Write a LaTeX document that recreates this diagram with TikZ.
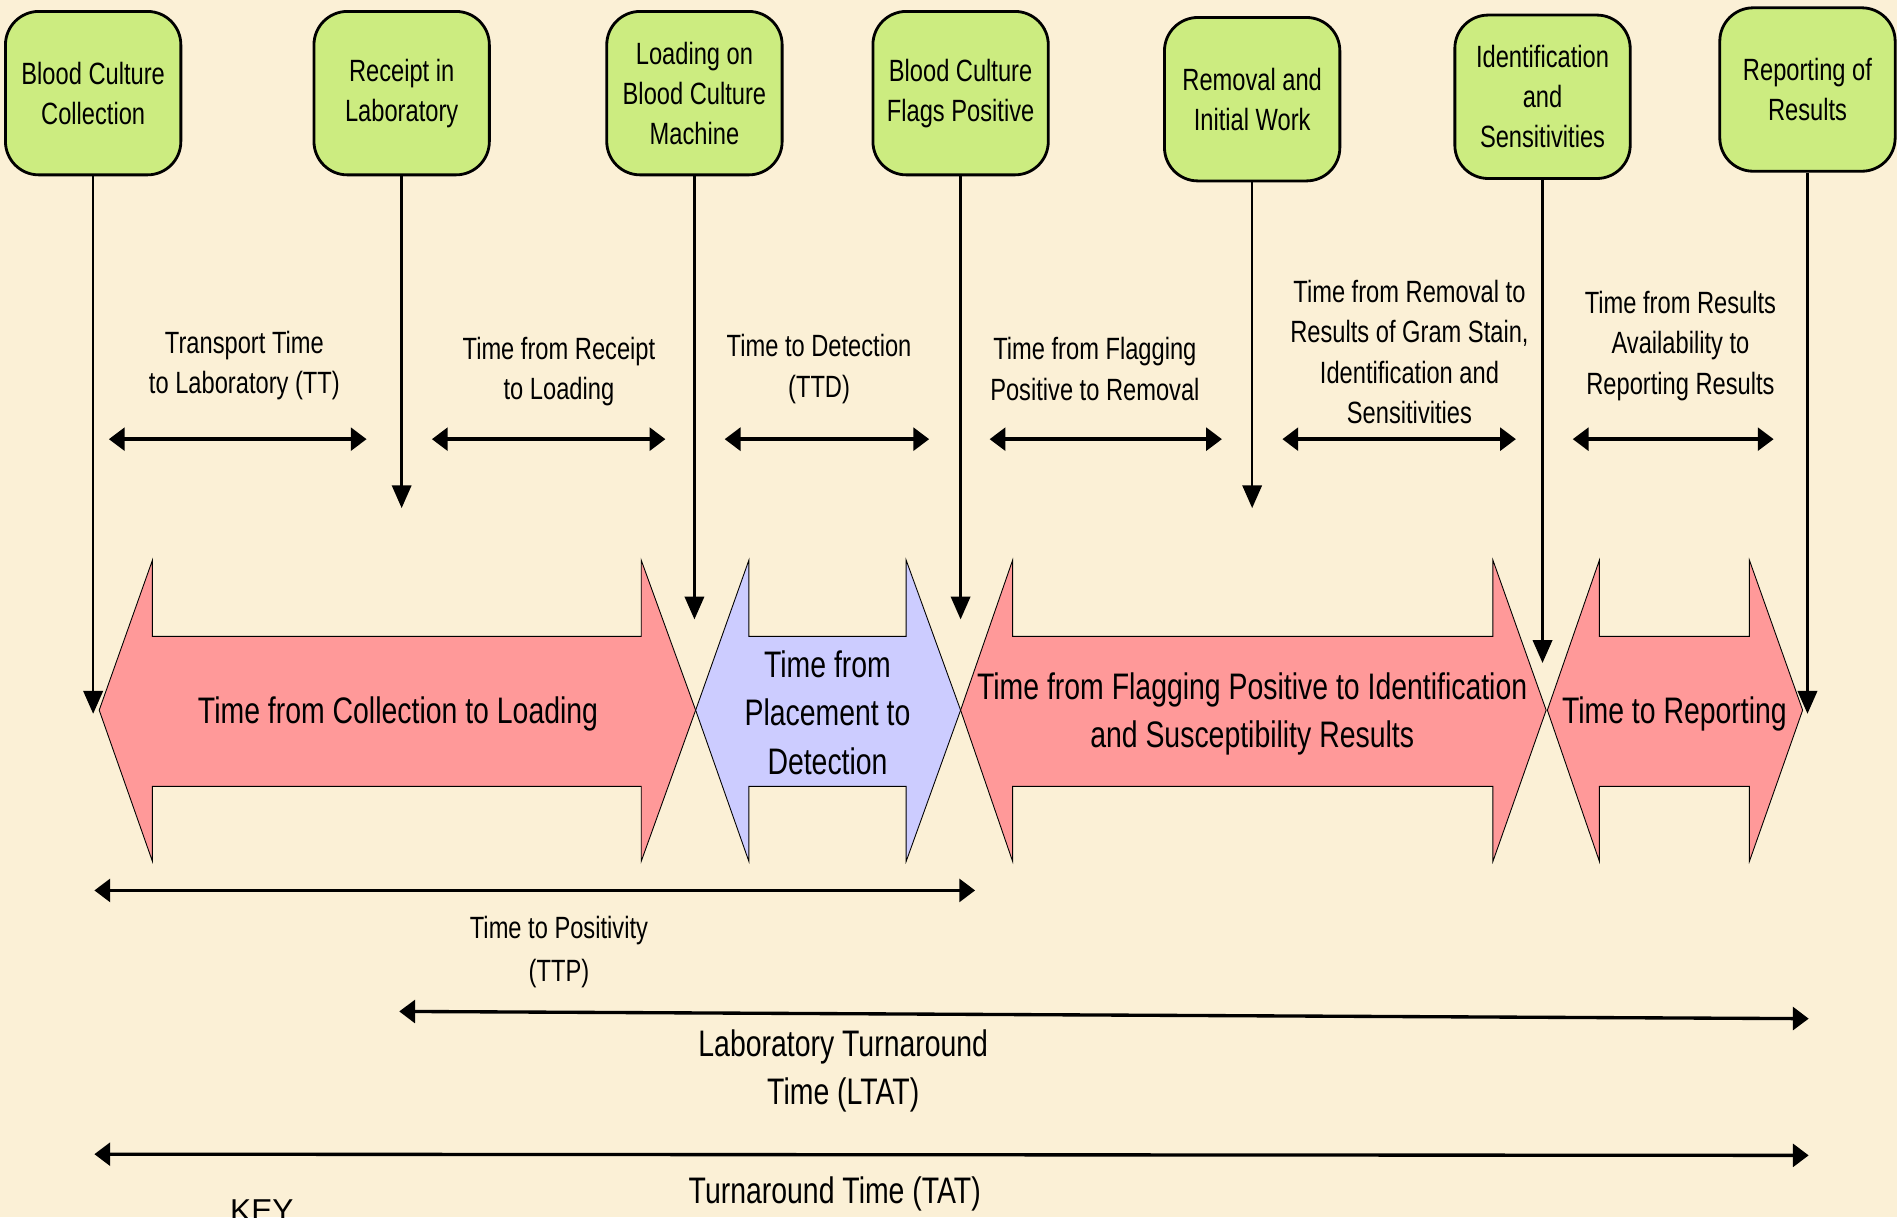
\documentclass[tikz,border=0pt]{standalone}
\usepackage{fontspec}
\setmainfont{Liberation Sans}[FakeStretch=0.77]
\newfontfamily\keyfont{Liberation Sans}
\usepackage{xcolor}
\usepackage{tikz}
\usetikzlibrary{positioning,arrows.meta}

\definecolor{bgcream}{RGB}{251,240,214}
\definecolor{boxgreen}{RGB}{204,236,128}
\definecolor{phasepink}{RGB}{255,153,153}
\definecolor{phaseblue}{RGB}{204,204,255}

\tikzstyle{stagebox} = [rectangle, rounded corners=19pt, draw, line width=1.6pt, fill=boxgreen, minimum width=99.8pt, minimum height=93pt, align=center, font=\fontsize{17.5}{22.7}\selectfont]
\tikzstyle{dropline} = [line width=1.5pt, -{Triangle[length=13pt,width=11pt]}]
\tikzstyle{spanarrow} = [line width=1.9pt, {Triangle[length=9pt,width=13pt]}-{Triangle[length=9pt,width=13pt]}]
\tikzstyle{spanlabel} = [align=center, font=\fontsize{17.5}{23}\selectfont]
\tikzstyle{phasearrow} = [draw=black, line width=0.5pt]
\tikzstyle{phaselabel} = [align=center, font=\fontsize{21}{27.5}\selectfont]

\begin{document}
\begin{tikzpicture}[x=0.24196mm, y=-0.24196mm]
    \useasboundingbox (0,0) rectangle (1568,1006);
    \fill[bgcream] (0,0) rectangle (1568,1006);

    % Milestones
    \node[stagebox] (collect) at (77,77) {Blood Culture\\Collection};
    \node[stagebox] (receipt) at (332,77) {Receipt in\\Laboratory};
    \node[stagebox] (loading) at (574,77) {Loading on\\Blood Culture\\Machine};
    \node[stagebox] (flags) at (794,77) {Blood Culture\\Flags Positive};
    \node[stagebox] (removal) at (1035,82) {Removal and\\Initial Work};
    \node[stagebox] (ident) at (1275,80) {Identification\\and\\Sensitivities};
    \node[stagebox] (report) at (1494,74) {Reporting of\\Results};

    % Phase arrows
    \draw[phasearrow, fill=phasepink] (82,587) -- (126,463) -- (126,526) -- (530,526) -- (530,463) -- (575,587)
        -- (530,712) -- (530,650) -- (126,650) -- (126,712) -- cycle;
    \draw[phasearrow, fill=phaseblue] (575,587) -- (619,463) -- (619,526) -- (749,526) -- (749,463) -- (794,587)
        -- (749,712) -- (749,650) -- (619,650) -- (619,712) -- cycle;
    \draw[phasearrow, fill=phasepink] (794,587) -- (837,463) -- (837,526) -- (1234,526) -- (1234,463) -- (1278,587)
        -- (1234,712) -- (1234,650) -- (837,650) -- (837,712) -- cycle;
    \draw[phasearrow, fill=phasepink] (1279,587) -- (1322,463) -- (1322,526) -- (1446,526) -- (1446,463) -- (1490,587)
        -- (1446,712) -- (1446,650) -- (1322,650) -- (1322,712) -- cycle;

    \node[phaselabel] (loadlbl) at (329,590) {Time from Collection to Loading};
    \node[phaselabel] (detectlbl) at (684,589) {Time from\\Placement to\\Detection};
    \node[phaselabel] (idlbl) at (1035,590) {Time from Flagging Positive to Identification\\and Susceptibility Results};
    \node[phaselabel] (replbl) at (1384,590) {Time to Reporting};

    % Drop lines
    \coordinate (collect-end) at (77,590);
    \coordinate (receipt-end) at (332,420);
    \coordinate (loading-end) at (574,512);
    \coordinate (flags-end) at (794,512);
    \coordinate (removal-end) at (1035,420);
    \coordinate (ident-end) at (1275,548);
    \coordinate (report-end) at (1494,590);
    \draw[dropline] (collect) -- (collect-end);
    \draw[dropline] (receipt) -- (receipt-end);
    \draw[dropline] (loading) -- (loading-end);
    \draw[dropline] (flags) -- (flags-end);
    \draw[dropline] (removal) -- (removal-end);
    \draw[dropline] (ident) -- (ident-end);
    \draw[dropline] (report) -- (report-end);

    % Interval labels
    \node[spanlabel] (ttlbl) at (202,302) {Transport Time\\to Laboratory (TT)};
    \node[spanlabel] (rllbl) at (462,307) {Time from Receipt\\to Loading};
    \node[spanlabel] (ttdlbl) at (677,305) {Time to Detection\\(TTD)};
    \node[spanlabel] (frlbl) at (905,305) {Time from Flagging\\Positive to Removal};
    \node[spanlabel] (rrlbl) at (1165,291) {Time from Removal to\\Results of Gram Stain,\\Identification and\\Sensitivities};
    \node[spanlabel] (rarlbl) at (1389,286) {Time from Results\\Availability to\\Reporting Results};

    % Interval arrows
    \coordinate (tt-l) at (90,363);    \coordinate (tt-r) at (303,363);
    \coordinate (rl-l) at (357,363);   \coordinate (rl-r) at (550,363);
    \coordinate (ttd-l) at (599,363);  \coordinate (ttd-r) at (768,363);
    \coordinate (fr-l) at (818,363);   \coordinate (fr-r) at (1010,363);
    \coordinate (rr-l) at (1060,363);  \coordinate (rr-r) at (1253,363);
    \coordinate (rar-l) at (1300,363); \coordinate (rar-r) at (1466,363);
    \draw[spanarrow] (tt-l) -- (tt-r);
    \draw[spanarrow] (rl-l) -- (rl-r);
    \draw[spanarrow] (ttd-l) -- (ttd-r);
    \draw[spanarrow] (fr-l) -- (fr-r);
    \draw[spanarrow] (rr-l) -- (rr-r);
    \draw[spanarrow] (rar-l) -- (rar-r);

    % Overall times
    \coordinate (ttp-l) at (78,736);   \coordinate (ttp-r) at (806,736);
    \coordinate (ltat-l) at (330,836); \coordinate (ltat-r) at (1495,842);
    \coordinate (tat-l) at (78,954);   \coordinate (tat-r) at (1495,955);
    \draw[spanarrow] (ttp-l) -- (ttp-r);
    \draw[spanarrow] (ltat-l) -- (ltat-r);
    \draw[spanarrow] (tat-l) -- (tat-r);

    \node[spanlabel, font=\fontsize{17.5}{24.8}\selectfont] (ttplbl) at (462,787) {Time to Positivity\\(TTP)};
    \node[phaselabel] (ltatlbl) at (697,885) {Laboratory Turnaround\\Time (LTAT)};
    \node[phaselabel] (tatlbl) at (690,987) {Turnaround Time (TAT)};
    % key heading, cut by the page edge as in the source
    \node[font=\keyfont\fontsize{18}{20}\selectfont, anchor=base west, inner sep=0pt] (key) at (190,1010) {KEY};
\end{tikzpicture}
\end{document}
